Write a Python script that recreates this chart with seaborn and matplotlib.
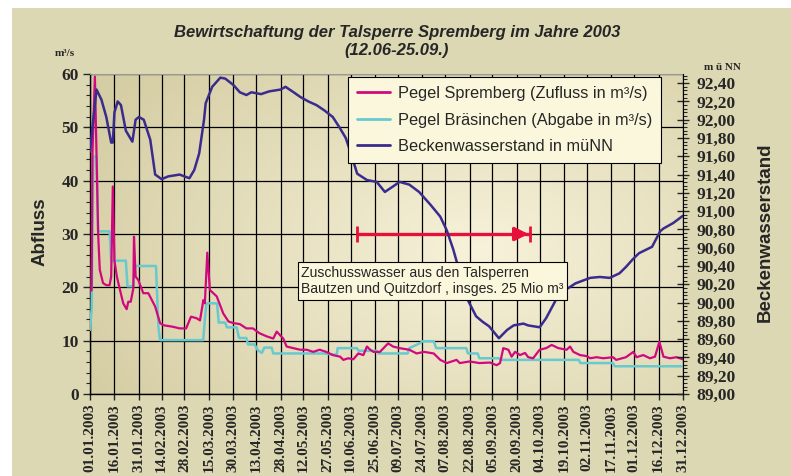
import numpy as np
import pandas as pd
import matplotlib
matplotlib.use('Agg')
import matplotlib.pyplot as plt
import seaborn as sns
from matplotlib.ticker import MultipleLocator, FuncFormatter
from matplotlib.patches import Rectangle
from matplotlib.lines import Line2D

sns.set_style('white')
plt.rcParams['font.family'] = ['Liberation Sans', 'DejaVu Sans']

# Daten (Tag im Jahr 2003, 0 = 01.01.)
tag_zufluss = [0, 1, 1.5, 2, 3, 4, 5, 6, 8, 10, 12, 13, 14, 15, 16.5, 17.4, 20.4, 22.5, 23.5, 25,
               26.6, 27, 28, 29.6, 32.7, 35.8, 40, 43, 45, 51, 55, 59, 62, 65.5, 67.5, 69.6, 70.5,
               72, 73.6, 77.8, 81.8, 85, 88, 92, 96, 100, 104, 108.5, 112.5, 114.6, 118.6, 120.7,
               124.8, 129, 133, 137, 141, 145, 149, 153.5, 155.5, 158.6, 161.6, 164.7, 167.8, 170,
               172, 174, 178, 183, 186, 190, 196, 200.5, 205, 211, 215, 219, 225, 227, 233, 239,
               245.5, 249.6, 251.7, 253.7, 256.8, 258.8, 260.9, 264, 267, 269, 272, 276, 280,
               283.4, 287.5, 292.6, 294.7, 296.7, 300.8, 305, 307, 311, 315, 321, 323, 329, 333.5,
               335.5, 339.6, 343.7, 346.8, 349.5, 352, 356, 360, 364]
zufluss = [19.2, 19.5, 45, 50, 59.5, 45, 30, 23.3, 20.8, 20.4, 20.4, 22, 38.9, 25, 22, 20.8, 17,
           15.9, 17.3, 17.3, 19.8, 29.5, 22, 21.4, 18.9, 18.9, 16.4, 13.3, 12.9, 12.6, 12.3, 12.3,
           14.5, 14.2, 13.8, 17.6, 17, 26.5, 19.5, 18.3, 15.1, 13.6, 13.3, 13.1, 12.3, 12.3, 11.4,
           10.8, 10.4, 11.7, 10.4, 8.9, 8.6, 8.3, 8.3, 7.9, 8.3, 7.9, 7.3, 7.0, 6.4, 6.7, 6.5, 7.6,
           7.3, 8.9, 8.3, 7.9, 7.9, 9.5, 8.9, 8.6, 8.3, 7.6, 7.9, 7.6, 6.4, 5.8, 6.4, 5.8, 6.1, 5.8,
           5.9, 5.4, 5.8, 8.6, 8.3, 7.0, 7.9, 7.3, 7.7, 6.9, 6.7, 8.3, 8.6, 9.2, 8.6, 8.3, 8.9, 7.9,
           7.3, 7.1, 6.7, 6.9, 6.7, 6.9, 6.4, 6.9, 7.9, 6.9, 7.3, 6.7, 7.0, 9.8, 7.0, 6.7, 6.9, 6.5]

tag_abgabe = [0, 1, 2, 4, 5, 12, 13, 22, 23, 26.5, 27.5, 40.5, 42, 43, 69.5, 70.5, 71.5, 78, 79,
              83, 84, 90, 91.5, 96, 97, 101, 103, 105.5, 107, 111.5, 112.5, 143, 150, 151.5, 152,
              163.7, 165, 176, 177, 195, 196, 203, 204, 211, 212.5, 231, 232, 238, 239, 251, 252,
              300, 301, 321, 322, 364]
abgabe = [12, 16, 44.5, 44.5, 30.5, 30.5, 25, 25, 20.2, 20.2, 24, 24, 12.5, 10.1, 10.1, 14, 17,
          17, 13.4, 13.4, 12.5, 12.5, 10.5, 10.5, 9.3, 9.3, 8.2, 7.7, 8.7, 8.7, 7.6, 7.6, 7.4, 7.4,
          8.6, 8.6, 8.1, 8.1, 7.6, 7.6, 8.6, 9.6, 9.9, 9.9, 8.6, 8.6, 7.6, 7.6, 6.7, 6.7, 6.4, 6.4,
          5.8, 5.8, 5.2, 5.2]

tag_stand = [0, 2, 4, 7, 10, 13, 14, 15, 17, 19, 22, 26, 28, 30, 33, 37, 40, 44, 48, 55, 61, 64,
             67, 70, 71, 75, 80, 83, 88, 92, 96, 99, 105, 110, 117, 120, 125, 129, 134, 139, 144,
             149, 153, 157, 160, 164, 170, 176, 181, 186, 190, 196, 202, 209, 215, 219, 223, 226,
             231, 237, 241, 245, 251, 256, 260, 266, 269, 276, 280, 286, 292, 298, 307, 313, 319,
             325, 329, 333, 337, 345, 350, 352, 358, 364]
stand = [91.65, 92.0, 92.33, 92.22, 92.03, 91.75, 91.75, 92.08, 92.2, 92.16, 91.88, 91.76, 92.0,
         92.03, 92.0, 91.78, 91.4, 91.35, 91.38, 91.4, 91.36, 91.45, 91.63, 92.0, 92.18, 92.36,
         92.46, 92.45, 92.38, 92.3, 92.27, 92.3, 92.28, 92.31, 92.33, 92.36, 92.3, 92.25, 92.2,
         92.16, 92.1, 92.03, 91.92, 91.8, 91.64, 91.41, 91.34, 91.32, 91.21, 91.27, 91.32, 91.29,
         91.21, 91.07, 90.94, 90.79, 90.58, 90.39, 90.06, 89.85, 89.79, 89.74, 89.61, 89.70, 89.75,
         89.77, 89.75, 89.73, 89.83, 90.03, 90.14, 90.21, 90.27, 90.28, 90.27, 90.32, 90.39, 90.47,
         90.54, 90.61, 90.78, 90.81, 90.87, 90.95]

tick_labels = ['01.01.2003', '16.01.2003', '31.01.2003', '14.02.2003', '28.02.2003', '15.03.2003',
               '30.03.2003', '13.04.2003', '28.04.2003', '12.05.2003', '27.05.2003', '10.06.2003',
               '25.06.2003', '09.07.2003', '24.07.2003', '07.08.2003', '22.08.2003', '05.09.2003',
               '20.09.2003', '04.10.2003', '19.10.2003', '02.11.2003', '17.11.2003', '01.12.2003',
               '16.12.2003', '31.12.2003']

pfeil_von, pfeil_bis, pfeil_hoehe = '14.06.2003', '28.09.2003', 30

start = pd.Timestamp('2003-01-01')
df_zu = pd.DataFrame({'datum': start + pd.to_timedelta(tag_zufluss, unit='D'), 'wert': zufluss})
df_ab = pd.DataFrame({'datum': start + pd.to_timedelta(tag_abgabe, unit='D'), 'wert': abgabe})
df_st = pd.DataFrame({'datum': start + pd.to_timedelta(tag_stand, unit='D'), 'wert': stand})
ticks = pd.to_datetime(tick_labels, format='%d.%m.%Y')

C_ZU = '#D2087E'
C_AB = '#68C9CE'
C_ST = '#3A2B8E'
C_ROT = '#E8103A'
CREME = '#FBF7DC'

fig = plt.figure(figsize=(7.91, 4.76), dpi=100, facecolor='white')
fig.patches.append(Rectangle((12 / 791, 0), 1, 1 - 8 / 476, transform=fig.transFigure,
                             facecolor='#DDD8B4', edgecolor='none', zorder=-10))
ax = fig.add_axes([90 / 791, 1 - 394 / 476, 593 / 791, 320 / 476])

# Hintergrundverlauf der Zeichenfläche
gx, gy = np.meshgrid(np.linspace(0, 1, 200), np.linspace(0, 1, 120))
r = np.clip(np.sqrt(((gx - 0.66) / 0.75) ** 2 + ((gy - 0.45) / 0.9) ** 2), 0, 1)
dunkel = np.array([213, 205, 163]) / 255
hell = np.array([247, 242, 218]) / 255
grad = hell[None, None, :] * (1 - r[..., None]) + dunkel[None, None, :] * r[..., None]
ax.imshow(grad, extent=[0, 1, 0, 1], transform=ax.transAxes, aspect='auto', zorder=0,
          origin='lower')

sns.lineplot(data=df_ab, x='datum', y='wert', ax=ax, color=C_AB, lw=1.8, estimator=None,
             sort=False, zorder=3)
sns.lineplot(data=df_zu, x='datum', y='wert', ax=ax, color=C_ZU, lw=1.6, estimator=None,
             sort=False, zorder=4)

ax.set_xlim(ticks[0], ticks[-1])
ax.set_ylim(0, 60)
ax.set_xticks(ticks)
ax.set_xticklabels(tick_labels, rotation=90)
ax.yaxis.set_major_locator(MultipleLocator(10))
ax.yaxis.set_minor_locator(MultipleLocator(2))
ax.grid(True, which='major', color='black', lw=0.9, zorder=1)
ax.set_axisbelow(True)
ax.set_xlabel('')
ax.set_ylabel('')
ax.tick_params(axis='y', which='major', direction='out', length=5, width=1, left=True, pad=3)
ax.tick_params(axis='y', which='minor', direction='out', length=3, width=0.8, left=True)
ax.tick_params(axis='x', which='major', direction='out', length=4, width=1, bottom=True, pad=3)
for lab in ax.get_xticklabels():
    lab.set_fontfamily('Liberation Serif')
    lab.set_fontweight('bold')
    lab.set_fontsize(11)
for lab in ax.get_yticklabels():
    lab.set_fontfamily('Liberation Serif')
    lab.set_fontweight('bold')
    lab.set_fontsize(12.5)
ax.spines['top'].set_color('#9A9A9A')
ax.spines['right'].set_visible(False)
for s in ['left', 'bottom']:
    ax.spines[s].set_color('black')
    ax.spines[s].set_linewidth(1)

ax2 = ax.twinx()
sns.lineplot(data=df_st, x='datum', y='wert', ax=ax2, color=C_ST, lw=1.8, estimator=None,
             sort=False, zorder=3)
ax2.set_ylim(89.0, 92.5)
ax2.set_ylabel('')
ax2.set_xlim(ticks[0], ticks[-1])
ax2.yaxis.set_major_locator(MultipleLocator(0.2))
ax2.yaxis.set_minor_locator(MultipleLocator(0.04))
ax2.yaxis.set_major_formatter(FuncFormatter(lambda v, p: f'{v:.2f}'.replace('.', ',')))
ax2.tick_params(axis='y', which='major', direction='inout', length=9, width=1, right=True, pad=5)
ax2.tick_params(axis='y', which='minor', direction='out', length=3, width=0.8, right=True)
for lab in ax2.get_yticklabels():
    lab.set_fontfamily('Liberation Serif')
    lab.set_fontweight('bold')
    lab.set_fontsize(12.5)
ax2.spines['right'].set_color('black')
ax2.spines['top'].set_visible(False)
ax2.spines['left'].set_visible(False)
ax2.spines['bottom'].set_visible(False)

# Zuschuss-Pfeil
p0 = pd.to_datetime(pfeil_von, format='%d.%m.%Y')
p1 = pd.to_datetime(pfeil_bis, format='%d.%m.%Y')
ax.plot([p0, p1], [pfeil_hoehe, pfeil_hoehe], color=C_ROT, lw=2.4, marker='|', ms=11, mew=2,
        zorder=6)
ax.annotate('', xy=(p1, pfeil_hoehe), xytext=(p1 - pd.Timedelta(days=9), pfeil_hoehe),
            arrowprops=dict(arrowstyle='-|>', color=C_ROT, lw=2.4, mutation_scale=20,
                            shrinkA=0, shrinkB=1), zorder=6)

ax2.text(0.356, 0.353, 'Zuschusswasser aus den Talsperren\nBautzen und Quitzdorf , insges. 25 Mio m³',
         transform=ax2.transAxes, ha='left', va='center', fontsize=10.1, linespacing=1.25,
         bbox=dict(boxstyle='square,pad=0.25', fc=CREME, ec='black', lw=0.8), zorder=10)

handles = [Line2D([], [], color=C_ZU, lw=2), Line2D([], [], color=C_AB, lw=2),
           Line2D([], [], color=C_ST, lw=2)]
labels = ['Pegel Spremberg (Zufluss in m³/s)', 'Pegel Bräsinchen (Abgabe in m³/s)',
          'Beckenwasserstand in müNN']
leg = ax2.legend(handles, labels, loc='upper left', bbox_to_anchor=(0.435, 0.99), fontsize=11.8,
                 frameon=True, fancybox=False, framealpha=1, facecolor=CREME, edgecolor='black',
                 handlelength=2.0, labelspacing=0.7, borderpad=0.55, handletextpad=0.5,
                 borderaxespad=0)
leg.get_frame().set_linewidth(0.8)
leg.set_zorder(11)

fig.text(397 / 791, 1 - 32 / 476, 'Bewirtschaftung der Talsperre Spremberg im Jahre 2003',
         ha='center', va='center', fontsize=12, fontweight='bold', fontstyle='italic')
fig.text(397 / 791, 1 - 50 / 476, '(12.06-25.09.)', ha='center', va='center', fontsize=12,
         fontweight='bold', fontstyle='italic')
fig.text(65 / 791, 1 - 53 / 476, 'm³/s', ha='center', va='center', fontsize=8,
         fontweight='bold', family='Liberation Serif')
fig.text(722 / 791, 1 - 67 / 476, 'm ü NN', ha='center', va='center', fontsize=8,
         fontweight='bold', family='Liberation Serif')
fig.text(40 / 791, 1 - 232 / 476, 'Abfluss', ha='center', va='center', rotation=90,
         fontsize=13.5, fontweight='bold')
fig.text(765 / 791, 1 - 232 / 476, 'Beckenwasserstand', ha='center', va='center', rotation=90,
         fontsize=13.5, fontweight='bold')

fig.savefig('out.png', dpi=100, facecolor=fig.get_facecolor())
